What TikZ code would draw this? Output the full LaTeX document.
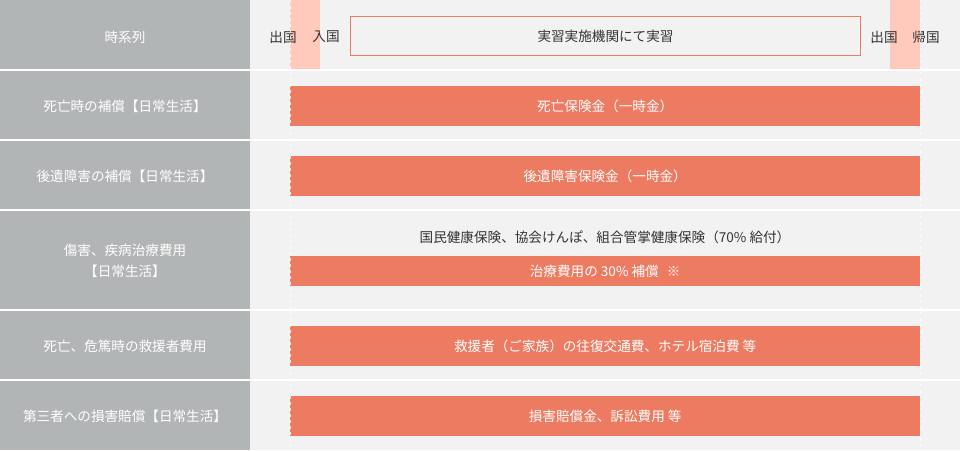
\documentclass[tikz,border=0pt]{standalone}
\usepackage{fontspec}
\setmainfont{Noto Sans CJK JP}
\definecolor{leftgray}{HTML}{B2B5B6}
\definecolor{bgpanel}{HTML}{F2F2F2}
\definecolor{salmon}{HTML}{EC7B62}
\definecolor{pinkband}{HTML}{FFC9BB}
\definecolor{darktext}{HTML}{333333}
\begin{document}
\begin{tikzpicture}[x=1pt,y=-1pt,
  lbl/.style={text=white,font=\fontsize{13.6}{16}\selectfont,align=center},
  bartext/.style={text=white,font=\fontsize{13.6}{16}\selectfont},
  dtext/.style={text=darktext,font=\fontsize{13.6}{16}\selectfont},
  barbox/.style={fill=salmon,draw=none,minimum width=630pt,minimum height=40pt,inner sep=0pt,anchor=north west},
  sep/.style={draw=white,line width=2pt}]
\useasboundingbox (0,0) rectangle (960,450);
\fill[leftgray] (0,0) rectangle (250,450);
\fill[bgpanel] (250,0) rectangle (960,450);
% pink bands
\fill[pinkband] (290,0) rectangle (320,70);
\fill[pinkband] (890,0) rectangle (920,70);
% row separators
\foreach \yy in {70,140,210,310,380} \draw[sep] (0,\yy) -- (960,\yy);
% top row
\node[draw=salmon,line width=1pt,minimum width=510pt,minimum height=39pt,inner sep=0pt,anchor=north west,dtext] (train) at (350,16) {};
\node[dtext] (traintext) at (train.center) {実習実施機関にて実習};
\node[dtext] (dep1) at (283,37) {出国};
\node[dtext] (arr1) at (326,37) {入国};
\node[dtext] (dep2) at (884,37) {出国};
\node[dtext] (ret) at (926,37) {帰国};
% left labels
\node[lbl] (h1) at (125,37) {時系列};
\node[lbl] (h2) at (125,106) {死亡時の補償【日常生活】};
\node[lbl] (h3) at (125,176) {後遺障害の補償【日常生活】};
\node[lbl] (h4) at (125,261) {傷害、疾病治療費用\\[5pt]【日常生活】};
\node[lbl] (h5) at (125,346) {死亡、危篤時の救援者費用};
\node[lbl] (h6) at (125,416) {第三者への損害賠償【日常生活】};
% bars
\node[barbox] (b2) at (290,86) {};
\node[bartext] at (b2.center) {死亡保険金（一時金）};
\node[barbox] (b3) at (290,156) {};
\node[bartext] at (b3.center) {後遺障害保険金（一時金）};
\node[dtext] (nhi) at (605,237) {国民健康保険、協会けんぽ、組合管掌健康保険（70\% 給付）};
\node[barbox,minimum height=30pt] (b4) at (290,256) {};
\node[bartext] at (b4.center) {治療費用の 30\% 補償\hspace{0.6em}※};
\node[barbox] (b5) at (290,326) {};
\node[bartext] at (b5.center) {救援者（ご家族）の往復交通費、ホテル宿泊費 等};
\node[barbox] (b6) at (290,396) {};
\node[bartext] at (b6.center) {損害賠償金、訴訟費用 等};
% dashed guide lines
\coordinate (gl1) at (290,0);
\coordinate (gl2) at (290,450);
\coordinate (gr1) at (920,0);
\coordinate (gr2) at (920,450);
\draw[white,line width=1pt,dash pattern=on 3pt off 3pt,opacity=0.8] (gl1) -- (gl2);
\draw[white,line width=1pt,dash pattern=on 3pt off 3pt,opacity=0.8] (gr1) -- (gr2);
\end{tikzpicture}
\end{document}
